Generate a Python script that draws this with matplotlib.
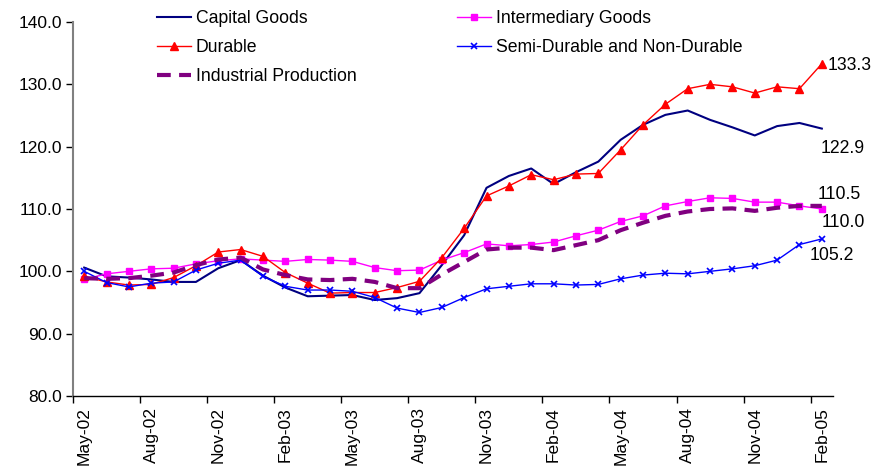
import matplotlib
matplotlib.use("Agg")
import matplotlib.pyplot as plt
from matplotlib.ticker import FixedLocator, FixedFormatter

plt.rcParams['font.family'] = ['Liberation Sans', 'DejaVu Sans']

months = ["May-02", "Jun-02", "Jul-02", "Aug-02", "Sep-02", "Oct-02", "Nov-02", "Dec-02",
          "Jan-03", "Feb-03", "Mar-03", "Apr-03", "May-03", "Jun-03", "Jul-03", "Aug-03",
          "Sep-03", "Oct-03", "Nov-03", "Dec-03", "Jan-04", "Feb-04", "Mar-04", "Apr-04",
          "May-04", "Jun-04", "Jul-04", "Aug-04", "Sep-04", "Oct-04", "Nov-04", "Dec-04",
          "Jan-05", "Feb-05"]

capital_goods = [100.6, 99.2, 99.0, 98.7, 98.3, 98.3, 100.5, 101.8, 99.3, 97.4, 96.0, 96.1,
                 96.2, 95.4, 95.7, 96.5, 101.0, 105.8, 113.4, 115.3, 116.5, 114.0, 115.9, 117.6,
                 121.1, 123.5, 125.1, 125.8, 124.3, 123.1, 121.8, 123.3, 123.8, 122.9]

intermediary = [98.7, 99.6, 100.0, 100.4, 100.5, 101.2, 101.7, 102.0, 101.8, 101.6, 101.9, 101.8,
                101.6, 100.6, 100.1, 100.2, 101.8, 103.0, 104.4, 104.1, 104.3, 104.7, 105.7, 106.6,
                108.0, 108.9, 110.5, 111.2, 111.8, 111.7, 111.1, 111.1, 110.5, 110.0]

durable = [99.2, 98.3, 97.8, 97.9, 99.0, 100.9, 103.1, 103.5, 102.4, 99.8, 98.1, 96.5,
           96.6, 96.6, 97.4, 98.4, 102.2, 106.9, 112.1, 113.7, 115.5, 114.7, 115.6, 115.7,
           119.5, 123.5, 126.8, 129.3, 130.0, 129.6, 128.6, 129.6, 129.3, 133.3]

semi_durable = [100.0, 98.2, 97.5, 98.1, 98.3, 100.2, 101.3, 101.8, 99.2, 97.6, 97.0, 97.0,
                96.8, 95.8, 94.1, 93.4, 94.2, 95.8, 97.2, 97.6, 98.0, 98.0, 97.8, 97.9,
                98.8, 99.4, 99.7, 99.6, 100.0, 100.4, 100.9, 101.8, 104.3, 105.2]

industrial = [98.9, 98.8, 98.9, 99.3, 99.8, 101.0, 101.9, 102.2, 100.3, 99.4, 98.7, 98.6,
              98.8, 98.3, 97.3, 97.3, 99.5, 101.5, 103.5, 103.8, 103.8, 103.4, 104.2, 105.0,
              106.6, 107.8, 108.9, 109.6, 110.0, 110.1, 109.7, 110.2, 110.5, 110.5]

yticks = [80.0, 90.0, 100.0, 110.0, 120.0, 130.0, 140.0]

x = list(range(len(months)))

fig = plt.figure(figsize=(8.74, 4.71), dpi=100)
ax = fig.add_axes([73/874, 1-396/471, (833-73)/874, (396-22)/471])

l_cap, = ax.plot(x, capital_goods, color='#000080', lw=1.5, label='Capital Goods')
l_int, = ax.plot(x, intermediary, color='#FF00FF', lw=1.0, marker='s', ms=4.5,
                 label='Intermediary Goods')
l_dur, = ax.plot(x, durable, color='#FF0000', lw=1.0, marker='^', ms=6, label='Durable')
l_semi, = ax.plot(x, semi_durable, color='#0000FF', lw=1.0, marker='x', ms=5, mew=1.2,
                  label='Semi-Durable and Non-Durable')
l_ip, = ax.plot(x, industrial, color='#800080', lw=3.0, dashes=(3.3, 2.0),
                label='Industrial Production')

ax.set_xlim(-0.5, len(months) - 0.5)
ax.set_ylim(yticks[0], yticks[-1])
ax.set_yticks(yticks)
ax.set_yticklabels([f"{v:.1f}" for v in yticks])

idx = list(range(0, len(months), 3))
ax.xaxis.set_major_locator(FixedLocator([i - 0.5 for i in idx]))
ax.xaxis.set_major_formatter(FixedFormatter([""] * len(idx)))
ax.xaxis.set_minor_locator(FixedLocator(idx))
ax.xaxis.set_minor_formatter(FixedFormatter([months[i] for i in idx]))
ax.tick_params(axis='x', which='major', length=5, width=1, direction='out', color='black')
ax.tick_params(axis='x', which='minor', length=0, pad=8, labelsize=12.5, labelrotation=90)
ax.tick_params(axis='y', which='major', length=5, width=1, direction='out', pad=3,
               labelsize=12.5, color='black')

for s in ['top', 'right']:
    ax.spines[s].set_visible(False)
ax.spines['left'].set_color('#808080')
ax.spines['left'].set_linewidth(1.5)
ax.spines['bottom'].set_color('black')
ax.spines['bottom'].set_linewidth(1.0)

handles = [l_cap, l_dur, l_ip, l_int, l_semi]
ax.legend(handles=handles, labels=[h.get_label() for h in handles], ncol=2,
          loc='upper left', bbox_to_anchor=(157/874, 1 - 10/471), bbox_transform=fig.transFigure,
          frameon=False, fontsize=12.7, handlelength=1.95, handletextpad=0.25,
          columnspacing=5.7, labelspacing=0.68, borderpad=0, borderaxespad=0)

last = len(months) - 1
ann = [
    (durable, 4, -1, 'left'),
    (capital_goods, -1, -14, 'left'),
    (industrial, -3, 8, 'left'),
    (intermediary, 0, -10, 'left'),
    (semi_durable, -9, -12, 'left'),
]
for series, dx, dy, ha in ann:
    ax.annotate(f"{series[last]:.1f}", xy=(last, series[last]), xytext=(dx, dy),
                textcoords='offset points', ha=ha, va='center', fontsize=12.7,
                annotation_clip=False)

fig.savefig("out.png", dpi=100)
